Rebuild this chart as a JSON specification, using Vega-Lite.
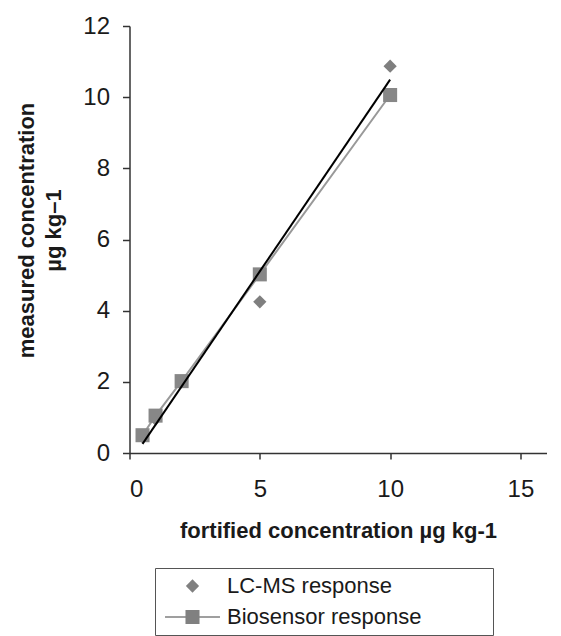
{
  "$schema": "https://vega.github.io/schema/vega-lite/v6.json",
  "width": 417,
  "height": 427,
  "autosize": {"type": "none"},
  "padding": {"left": 129.5, "top": 26, "right": 14.5, "bottom": 183},
  "background": "white",
  "config": {
    "font": "Liberation Sans",
    "view": {"stroke": null},
    "axis": {
      "grid": false,
      "domainColor": "#333333",
      "domainWidth": 1.5,
      "tickColor": "#333333",
      "tickWidth": 1.5,
      "labelColor": "#1a1a1a",
      "titleColor": "#1a1a1a",
      "labelFont": "Liberation Sans",
      "titleFont": "Liberation Sans",
      "labelFontSize": 24,
      "titleFontSize": 22,
      "titleFontWeight": "bold"
    }
  },
  "data": {
    "values": [
      {"series": "LC-MS response", "x": 0.5, "y": 0.45},
      {"series": "LC-MS response", "x": 1, "y": 0.95},
      {"series": "LC-MS response", "x": 2, "y": 2.0},
      {"series": "LC-MS response", "x": 5, "y": 4.25},
      {"series": "LC-MS response", "x": 10, "y": 10.87},
      {"series": "Biosensor response", "x": 0.5, "y": 0.5},
      {"series": "Biosensor response", "x": 1, "y": 1.05},
      {"series": "Biosensor response", "x": 2, "y": 2.02},
      {"series": "Biosensor response", "x": 5, "y": 5.02},
      {"series": "Biosensor response", "x": 10, "y": 10.06}
    ]
  },
  "layer": [
    {
      "transform": [{"filter": "datum.series === 'Biosensor response'"}],
      "mark": {"type": "line", "color": "#999999", "strokeWidth": 2},
      "encoding": {
        "x": {"field": "x", "type": "quantitative", "scale": {"domain": [0, 15]},
          "axis": {"values": [0, 5, 10, 15], "title": "fortified concentration µg kg-1", "tickSize": 6, "labelPadding": 18, "titlePadding": 19}},
        "y": {"field": "y", "type": "quantitative", "scale": {"domain": [0, 12]},
          "axis": {"values": [0, 2, 4, 6, 8, 10, 12], "title": ["measured concentration", "µg kg–1"], "tickSize": 7, "labelPadding": 13, "titlePadding": 17, "titleLineHeight": 27, "titleY": 204}}
      }
    },
    {
      "transform": [{"filter": "datum.series === 'LC-MS response'"}],
      "mark": {"type": "point", "filled": true, "opacity": 1, "size": 380, "color": "#7f7f7f", "shape": "M0,-0.68L0.68,0L0,0.68L-0.68,0Z"},
      "encoding": {
        "x": {"field": "x", "type": "quantitative"},
        "y": {"field": "y", "type": "quantitative"}
      }
    },
    {
      "transform": [{"filter": "datum.series === 'Biosensor response'"}],
      "mark": {"type": "point", "filled": true, "opacity": 1, "size": 380, "color": "#878787", "shape": "M-0.72,-0.72H0.72V0.72H-0.72Z"},
      "encoding": {
        "x": {"field": "x", "type": "quantitative"},
        "y": {"field": "y", "type": "quantitative"}
      }
    },
    {
      "mark": {"type": "point", "filled": true, "opacity": 1, "size": 0, "color": "#808080"},
      "encoding": {
        "x": {"field": "x", "type": "quantitative"},
        "y": {"field": "y", "type": "quantitative"},
        "shape": {
          "field": "series",
          "type": "nominal",
          "scale": {"domain": ["LC-MS response", "Biosensor response"], "range": ["M0,-0.68L0.68,0L0,0.68L-0.68,0Z", "M-2.82,-0.075H2.82V0.075H-2.82ZM-0.72,-0.72H0.72V0.72H-0.72Z"]},
          "legend": {
            "orient": "none",
            "legendX": 25.5,
            "legendY": 542,
            "title": null,
            "padding": 7,
            "strokeColor": "#555555",
            "fillColor": "white",
            "symbolSize": 380,
            "symbolOffset": 19.5,
            "symbolFillColor": "#808080",
            "symbolStrokeWidth": 0,
            "symbolOpacity": 1,
            "labelFontSize": 22,
            "labelColor": "#1a1a1a",
            "labelOffset": 23.5,
            "labelLimit": 1000,
            "rowPadding": 9,
            "labelExpr": "datum.label + '⠀⠀⠀⠀'",
            "encode": {
              "symbols": {
                "update": {
                  "size": {"value": 380}
                }
              }
            }
          }
        }
      }
    },
    {
      "transform": [
        {"filter": "datum.series === 'LC-MS response'"},
        {"regression": "y", "on": "x", "extent": [0.5, 10]}
      ],
      "mark": {"type": "line", "color": "#000000", "strokeWidth": 2},
      "encoding": {
        "x": {"field": "x", "type": "quantitative"},
        "y": {"field": "y", "type": "quantitative"}
      }
    }
  ]
}
